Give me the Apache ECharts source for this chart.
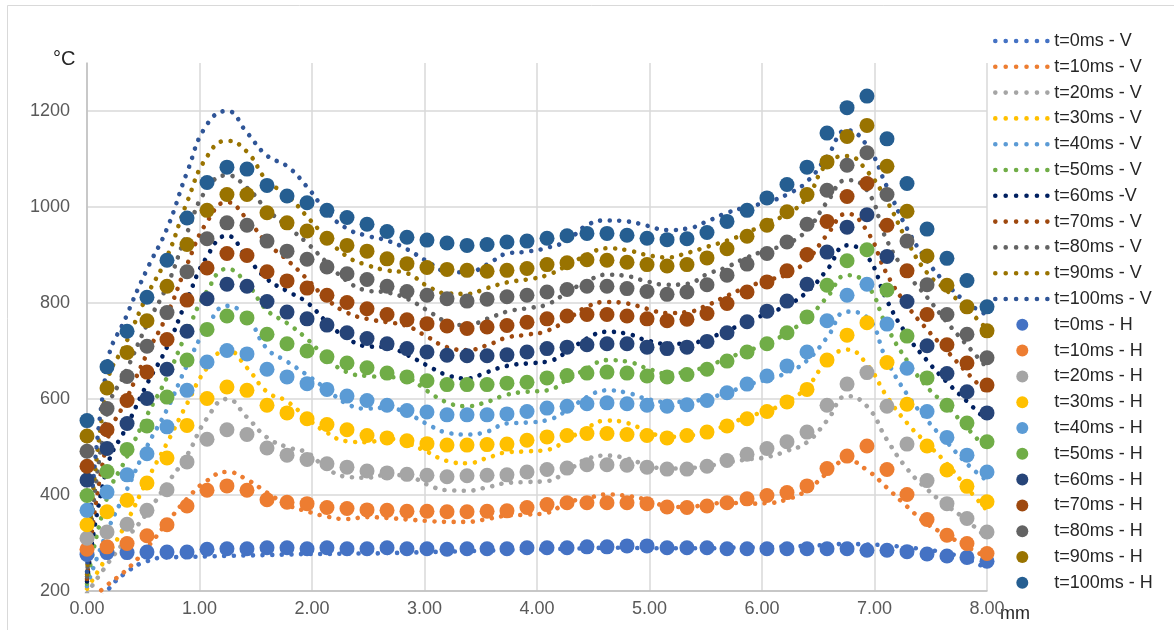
<!DOCTYPE html>
<html>
<head>
<meta charset="utf-8">
<script src="https://cdn.jsdelivr.net/npm/echarts@6/dist/echarts.min.js"></script>
<style>
  html, body { margin: 0; padding: 0; background: #ffffff; }
  #chart { width: 1174px; height: 630px; }
</style>
</head>
<body>
<div id="chart"></div>
<script>
// positions along the profile, mm
const positions = [0.000, 0.178, 0.356, 0.533, 0.711, 0.889, 1.067, 1.244, 1.422, 1.600,
  1.778, 1.956, 2.133, 2.311, 2.489, 2.667, 2.844, 3.022, 3.200, 3.378,
  3.556, 3.733, 3.911, 4.089, 4.267, 4.444, 4.622, 4.800, 4.978, 5.156,
  5.333, 5.511, 5.689, 5.867, 6.044, 6.222, 6.400, 6.578, 6.756, 6.933,
  7.111, 7.289, 7.467, 7.644, 7.822, 8.000];

// vertical profile temperatures, °C
const vT0 = [140,200,240,262,270,271,272,273,274,275,276,277,277,278,278,279,280,281,282,283,284,285,286,287,288,289,290,290,289,289,289,289,290,291,292,293,294,296,298,297,295,291,286,279,266,247];
const vT10 = [175,212,245,290,342,392,430,448,432,405,380,366,355,350,354,352,349,346,344,344,350,357,359,363,384,393,401,398,390,377,375,380,384,382,383,391,410,445,472,452,415,376,340,316,292,270];
const vT20 = [195,255,310,362,423,483,560,600,562,520,500,488,455,438,436,442,440,422,410,409,416,425,427,429,450,475,482,476,462,455,456,460,468,474,479,492,510,555,606,585,515,455,412,378,347,310];
const vT30 = [205,272,345,430,508,590,665,702,665,615,595,560,530,512,510,517,508,490,471,466,477,489,491,494,515,540,555,550,533,521,523,532,546,563,575,594,625,678,703,672,605,550,507,465,415,368];
const vT40 = [210,323,412,501,578,670,749,794,770,705,678,650,620,590,580,582,570,548,530,526,532,549,551,556,576,604,618,613,600,594,594,602,613,629,641,655,680,728,782,770,680,610,556,510,465,430];
const vT50 = [215,394,480,566,645,740,825,871,840,785,758,725,685,656,648,646,643,617,593,585,594,609,615,618,640,663,681,678,664,653,657,668,685,700,715,738,768,812,858,838,750,680,625,585,540,495];
const vT60 = [220,457,544,631,708,807,897,940,895,850,825,801,760,727,710,708,692,670,650,643,656,669,674,678,698,726,740,736,722,715,715,726,742,761,778,795,823,869,920,898,805,733,680,635,595,555];
const vT70 = [225,510,602,694,775,880,969,1010,975,925,890,850,808,780,767,760,752,730,708,702,712,728,734,742,765,792,802,799,788,779,781,795,815,833,847,860,889,942,986,950,860,795,745,700,655,612];
const vT80 = [230,570,662,755,836,946,1038,1066,1040,995,960,925,884,846,826,822,809,785,761,754,767,782,789,797,822,845,859,856,845,838,840,860,875,895,910,923,952,1010,1056,1035,930,862,812,760,712,665];
const vT90 = [235,630,722,815,896,1010,1105,1138,1115,1055,1025,980,935,897,879,868,862,836,820,819,831,843,849,858,878,900,914,910,900,895,904,917,930,946,968,985,1020,1090,1106,1075,1012,930,863,826,788,745];
const vT100 = [240,670,776,870,955,1072,1172,1200,1155,1107,1085,1042,990,955,940,930,912,887,866,864,880,903,907,915,930,962,972,970,961,952,955,970,988,1000,1010,1026,1053,1105,1160,1128,1042,955,888,839,801,775];

// horizontal profile temperatures, °C
const hT0 = [276,280,280,281,281,281,287,288,288,290,290,288,290,288,288,290,288,288,287,288,288,288,290,290,290,292,292,294,294,290,290,290,288,288,288,288,288,288,288,285,285,282,277,273,270,262];
const hT10 = [287,292,299,315,338,377,410,419,410,390,385,382,374,372,369,368,366,366,365,365,366,367,374,380,384,384,384,384,382,375,374,377,384,392,399,405,419,455,481,502,453,401,349,316,299,278];
const hT20 = [310,323,339,368,411,469,516,536,526,498,483,474,465,458,450,446,443,441,438,440,441,442,448,453,456,463,463,462,458,454,454,460,472,485,497,511,531,587,631,655,585,506,430,382,351,323];
const hT30 = [338,365,389,425,477,545,601,625,618,587,571,559,547,536,524,519,513,507,504,504,505,506,514,521,524,528,528,526,524,519,524,531,544,559,574,594,620,681,733,759,676,589,502,452,418,386];
const hT40 = [368,406,442,486,542,618,677,701,694,662,646,632,620,606,597,587,576,573,567,567,567,569,574,581,585,590,592,590,587,585,588,597,613,631,648,669,698,763,816,839,756,664,574,520,483,448];
const hT50 = [399,449,495,544,604,681,745,773,769,735,715,700,688,675,665,654,646,638,630,630,630,633,635,644,649,654,656,654,648,646,651,662,679,698,715,738,771,837,888,911,827,731,644,587,550,511];
const hT60 = [431,497,549,601,662,741,809,839,835,803,781,767,754,738,726,715,705,698,691,690,690,692,698,705,708,713,715,715,708,705,708,720,738,761,783,804,839,906,958,984,897,803,711,653,615,571];
const hT70 = [460,536,597,656,724,806,873,903,899,865,846,831,816,801,788,776,765,757,752,747,750,753,760,767,773,776,776,773,767,763,766,778,799,823,844,867,901,970,1022,1049,962,867,776,713,675,629];
const hT80 = [491,580,647,710,780,865,934,967,962,929,908,891,875,861,849,835,824,816,809,804,808,813,816,823,828,835,835,830,824,818,823,838,858,881,903,927,964,1035,1087,1113,1026,929,838,776,735,686];
const hT90 = [523,623,697,763,835,922,993,1026,1026,988,967,950,935,920,908,892,882,874,870,868,866,868,872,880,884,890,889,885,880,877,880,894,913,939,962,990,1026,1094,1147,1170,1085,991,898,837,792,742];
const hT100 = [555,667,741,812,889,977,1051,1083,1079,1045,1023,1009,993,978,964,949,937,931,925,920,922,927,929,935,940,945,945,941,935,932,934,947,970,993,1019,1047,1083,1154,1207,1231,1142,1049,954,893,847,792];

const vNames = ['t=0ms - V','t=10ms - V','t=20ms - V','t=30ms - V','t=40ms - V','t=50ms - V',
  't=60ms -V','t=70ms - V','t=80ms - V','t=90ms - V','t=100ms - V'];
const hNames = ['t=0ms - H','t=10ms - H','t=20ms - H','t=30ms - H','t=40ms - H','t=50ms - H',
  't=60ms - H','t=70ms - H','t=80ms - H','t=90ms - H','t=100ms - H'];
const vProfiles = [vT0, vT10, vT20, vT30, vT40, vT50, vT60, vT70, vT80, vT90, vT100];
const hProfiles = [hT0, hT10, hT20, hT30, hT40, hT50, hT60, hT70, hT80, hT90, hT100];
const vColors = ['#4472c4','#ed7d31','#a5a5a5','#ffc000','#5b9bd5','#70ad47',
  '#002060','#9e480e','#636363','#997300','#2f5597'];
const hColors = ['#4472c4','#ed7d31','#a5a5a5','#ffc000','#5b9bd5','#70ad47',
  '#264478','#9e480e','#636363','#997300','#255e91'];

const yTicks = [200, 400, 600, 800, 1000, 1200];

const pairs = vals => positions.map((x, i) => [x, vals[i]]);

const series = [];
vProfiles.forEach((vals, k) => {
  series.push({
    name: vNames[k],
    type: 'line',
    data: pairs(vals),
    smooth: 0.5,
    symbol: 'none',
    clip: true,
    z: 2,
    color: vColors[k],
    lineStyle: { color: vColors[k], width: 4.6, type: [0.01, 9.6], cap: 'round' }
  });
});
hProfiles.forEach((vals, k) => {
  series.push({
    name: hNames[k],
    type: 'scatter',
    data: pairs(vals),
    symbol: 'circle',
    symbolSize: 15,
    z: 3,
    color: hColors[k],
    itemStyle: { color: hColors[k], opacity: 1 }
  });
});

// dotted-line entries carry no marker in the key
const legendData = vNames.map(n => ({ name: n, itemStyle: { opacity: 0 } }))
  .concat(hNames.map(n => ({ name: n })));

const FONT = 'Liberation Sans, Arial, sans-serif';
const chart = echarts.init(document.getElementById('chart'), null, { renderer: 'canvas' });
chart.setOption({
  animation: false,
  backgroundColor: '#ffffff',
  grid: { left: 87, top: 63, width: 900, height: 528, containLabel: false },
  xAxis: {
    type: 'value', min: 0, max: 8, interval: 1,
    axisLine: { show: true, lineStyle: { color: '#bfbfbf', width: 1.5 } },
    axisTick: { show: false },
    axisLabel: { color: '#595959', fontSize: 18, fontFamily: FONT, margin: 9,
      formatter: v => v.toFixed(2) },
    splitLine: { show: true, lineStyle: { color: '#d9d9d9', width: 1.5 } }
  },
  yAxis: {
    type: 'value', min: 200, max: 1300, interval: 200,
    axisLine: { show: true, lineStyle: { color: '#bfbfbf', width: 1.5 } },
    axisTick: { show: false },
    axisLabel: { color: '#595959', fontSize: 18, fontFamily: FONT, margin: 17,
      formatter: v => (yTicks.indexOf(v) >= 0 ? String(v) : '') },
    splitLine: { show: true, showMaxLine: false, lineStyle: { color: '#d9d9d9', width: 1.5 } }
  },
  legend: {
    orient: 'vertical', left: 988, top: 27,
    itemWidth: 54, itemHeight: 12, itemGap: 7.8,
    lineStyle: { width: 4.6, type: [0.01, 10.4], cap: 'round' },
    textStyle: { color: '#262626', fontSize: 18, fontFamily: FONT },
    data: legendData
  },
  graphic: [
    { type: 'rect', shape: { x: 7.5, y: 5.5, width: 1180, height: 640 },
      style: { fill: 'none', stroke: '#d9d9d9', lineWidth: 1 }, silent: true, z: -1 },
    { type: 'text', left: 53, top: 49,
      style: { text: '°C', fill: '#262626', font: '20px ' + FONT } },
    { type: 'text', left: 1000, top: 605,
      style: { text: 'mm', fill: '#262626', font: '18px ' + FONT } }
  ],
  series: series
});
</script>
</body>
</html>
